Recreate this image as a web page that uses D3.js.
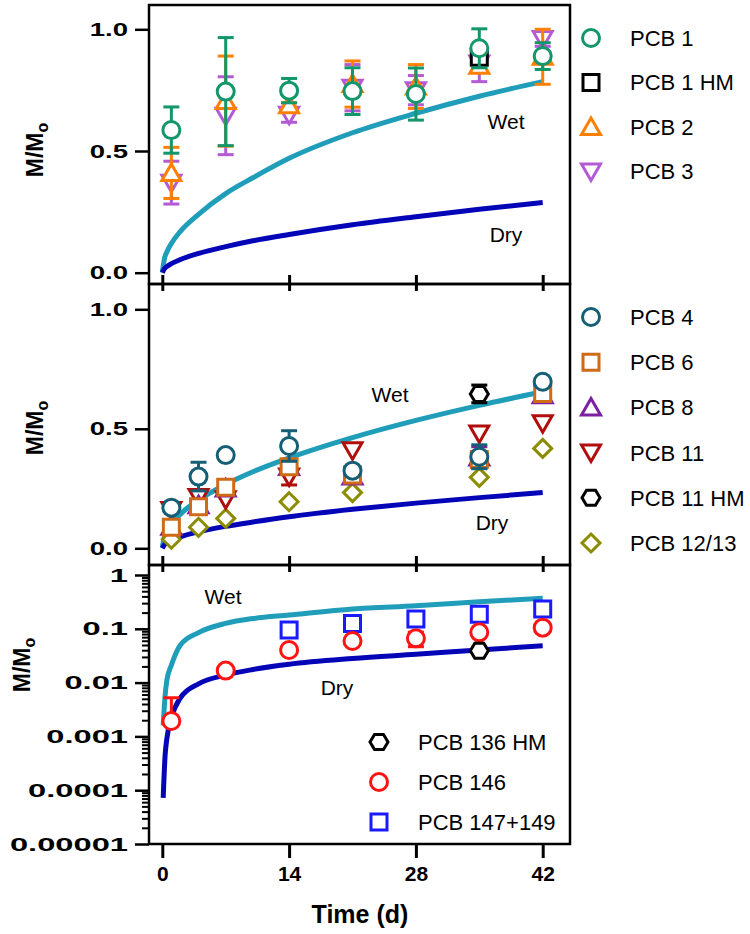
<!DOCTYPE html>
<html>
<head>
<meta charset="utf-8">
<script src="https://cdn.jsdelivr.net/npm/d3@7"></script>
<style>
  body { margin: 0; background: #fff; }
  svg { font-family: "Liberation Sans", Arial, sans-serif; }
</style>
</head>
<body>
<svg id="chart" width="750" height="934"></svg>
<script>
// sampling days
const days = [1, 7, 14, 21, 28, 35, 42]
const daysMid = [1, 4, 7, 14, 21, 35, 42]
const xTicks = [0, 14, 28, 42]

// top panel (linear)
const pcb1 = [0.586, 0.744, 0.748, 0.746, 0.734, 0.922, 0.890]
const pcb1Sd = [0.095, 0.222, 0.05, 0.096, 0.107, 0.08, 0.055]
const pcb1hmDays = [35]
const pcb1hm = [0.885]
const pcb1hmSd = [0.03]
const pcb2 = [0.41, 0.705, 0.688, 0.775, 0.765, 0.85, 0.887]
const pcb2Sd = [0.105, 0.185, 0.01, 0.095, 0.09, 0.01, 0.113]
const pcb3 = [0.37, 0.645, 0.649, 0.76, 0.75, 0.86, 0.96]
const pcb3Sd = [0.088, 0.16, 0.031, 0.095, 0.06, 0.075, 0.03]

// middle panel (linear)
const pcb4 = [0.17, 0.30, 0.39, 0.428, 0.325, 0.383, 0.697]
const pcb4Sd = [0, 0.06, 0, 0.064, 0, 0.05, 0]
const pcb6 = [0.088, 0.174, 0.255, 0.341, 0.307, 0.372, 0.648]
const pcb6Sd = [0, 0, 0, 0.02, 0, 0, 0]
const pcb8 = [0.09, 0.18, 0.25, 0.34, 0.30, 0.38, 0.64]
const pcb8Sd = [0, 0, 0, 0, 0, 0.045, 0]
const pcb11 = [0.16, 0.215, 0.205, 0.30, 0.41, 0.48, 0.523]
const pcb11Sd = [0, 0, 0, 0.035, 0, 0, 0]
const pcb11hmDays = [35]
const pcb11hm = [0.646]
const pcb11hmSd = [0.037]
const pcb1213 = [0.038, 0.088, 0.125, 0.195, 0.233, 0.297, 0.418]

// bottom panel (log)
const pcb136hmDays = [35]
const pcb136hm = [0.039]
const pcb146 = [0.00193, 0.0167, 0.0404, 0.0593, 0.0665, 0.0859, 0.105]
const pcb146Sd = [0.0033, 0, 0, 0, 0.02, 0, 0]
const pcb147Days = [14, 21, 28, 35, 42]
const pcb147 = [0.095, 0.126, 0.152, 0.186, 0.233]

// model curves
const curveDays = [0, 0.25, 0.5, 1, 2, 4, 7, 10, 14, 21, 28, 35, 42]
const topWet = [0, 0.06, 0.085, 0.12, 0.17, 0.24, 0.325, 0.39, 0.47, 0.575, 0.655, 0.725, 0.785]
const topDry = [0, 0.017, 0.025, 0.037, 0.054, 0.079, 0.107, 0.131, 0.157, 0.197, 0.230, 0.261, 0.288]
const midWet = [0.005, 0.05, 0.072, 0.101, 0.143, 0.202, 0.267, 0.32, 0.378, 0.463, 0.535, 0.598, 0.655]
const midDry = [0, 0.016, 0.023, 0.033, 0.048, 0.069, 0.092, 0.110, 0.132, 0.163, 0.189, 0.212, 0.233]
const logDays = [0.1, 0.3, 0.5, 1, 2, 4, 7, 10, 14, 21, 28, 35, 42]
const logWet = [0.0016, 0.0055, 0.011, 0.021, 0.05, 0.085, 0.126, 0.155, 0.18, 0.233, 0.269, 0.319, 0.369]
const logDry = [0.000072, 0.00042, 0.0009, 0.0022, 0.0052, 0.0095, 0.0138, 0.0175, 0.0219, 0.028, 0.0336, 0.0404, 0.0485]

const wetColor = "#1f9db9", dryColor = "#0505b8"

const left = 149, right = 570
const x = d3.scaleLinear().domain([0, 42]).range([162.3, 542.7])

// marker shapes, centred on 0,0
const shapes = {
    circle: "M8.5,0A8.5,8.5 0 1,1 -8.5,0A8.5,8.5 0 1,1 8.5,0Z",
    square: "M-8,-8H8V8H-8Z",
    up: "M0,-9L9.5,7.5H-9.5Z",
    down: "M0,9L9.5,-7.5H-9.5Z",
    diamond: "M0,-9L9,0L0,9L-9,0Z",
    hexagon: "M-9,0L-4.5,-7.5H4.5L9,0L4.5,7.5H-4.5Z"
}

const series = (name, shape, color, xs, ys, sds) => ({name, shape, color, xs, ys, sds: sds || ys.map(() => 0)})

const panels = [
    {
        top: 5, bottom: 284,
        y: d3.scaleLinear().domain([0, 1]).range([272.7, 29.3]),
        ticks: [0, 0.5, 1], fmt: d3.format(".1f"), stretch: 1.45,
        curves: [[curveDays, topWet, wetColor], [curveDays, topDry, dryColor]],
        labels: [["Wet", 506, 122], ["Dry", 506, 235]],
        titleX: 35, titleY: 150,
        legend: {mx: 591, tx: 630, y0: 38, dy: 44.5},
        series: [
            series("PCB 1", "circle", "#12966a", days, pcb1, pcb1Sd),
            series("PCB 1 HM", "square", "#000000", pcb1hmDays, pcb1hm, pcb1hmSd),
            series("PCB 2", "up", "#ff7f00", days, pcb2, pcb2Sd),
            series("PCB 3", "down", "#b45ad6", days, pcb3, pcb3Sd)
        ]
    },
    {
        top: 284, bottom: 565,
        y: d3.scaleLinear().domain([0, 1]).range([548.3, 309.3]),
        ticks: [0, 0.5, 1], fmt: d3.format(".1f"), stretch: 1.45,
        curves: [[curveDays, midWet, wetColor], [curveDays, midDry, dryColor]],
        labels: [["Wet", 390, 395], ["Dry", 492, 523]],
        titleX: 35, titleY: 428,
        legend: {mx: 591, tx: 630, y0: 317, dy: 45.2},
        series: [
            series("PCB 4", "circle", "#155e76", daysMid, pcb4, pcb4Sd),
            series("PCB 6", "square", "#cf6a16", daysMid, pcb6, pcb6Sd),
            series("PCB 8", "up", "#7d1fa3", daysMid, pcb8, pcb8Sd),
            series("PCB 11", "down", "#b00d0d", daysMid, pcb11, pcb11Sd),
            series("PCB 11 HM", "hexagon", "#000000", pcb11hmDays, pcb11hm, pcb11hmSd),
            series("PCB 12/13", "diamond", "#8c8c00", daysMid, pcb1213)
        ]
    },
    {
        top: 565, bottom: 844, log: true,
        y: d3.scaleLog().domain([1e-5, 1]).range([844, 575]),
        ticks: [1e-5, 1e-4, 1e-3, 1e-2, 1e-1, 1], stretch: 1.72,
        fmt: (d) => ["0.00001", "0.0001", "0.001", "0.01", "0.1", "1"][Math.round(Math.log10(d)) + 5],
        curves: [[logDays, logWet, wetColor], [logDays, logDry, dryColor]],
        labels: [["Wet", 223, 597], ["Dry", 337, 688]],
        titleX: 22, titleY: 665,
        legend: {mx: 379, tx: 418, y0: 742, dy: 40},
        series: [
            series("PCB 136 HM", "hexagon", "#000000", pcb136hmDays, pcb136hm),
            series("PCB 146", "circle", "#ff1414", days, pcb146, pcb146Sd),
            series("PCB 147+149", "square", "#1a1aff", pcb147Days, pcb147)
        ]
    }
]

const svg = d3.select("#chart")

panels.forEach((p, pi) => {
    const g = svg.append("g")
    const y = p.y

    // model curves
    const line = d3.line()
        .x((d) => x(d[0]))
        .y((d) => y(d[1]))
        .curve(d3.curveMonotoneX)
    p.curves.forEach(([xs, ys, color]) => {
        g.append("path")
            .attr("d", line(xs.map((t, i) => [t, ys[i]])))
            .attr("fill", "none")
            .attr("stroke", color)
            .attr("stroke-width", 5)
    })

    p.labels.forEach(([txt, lx, ly]) => {
        g.append("text")
            .attr("x", lx).attr("y", ly).attr("dy", "0.35em")
            .attr("text-anchor", "middle")
            .style("font-size", "21px")
            .text(txt)
    })

    // data, first series on top
    p.series.slice().reverse().forEach((s) => {
        const sg = g.append("g")
        s.xs.forEach((t, i) => {
            const v = s.ys[i], sd = s.sds[i]
            const cx = x(t), cy = y(v)
            if (sd > 0) {
                const hi = y(v + sd)
                const lo = (p.log && v - sd <= 0) ? cy : y(v - sd)
                sg.append("line").attr("x1", cx).attr("x2", cx).attr("y1", hi).attr("y2", lo)
                    .attr("stroke", s.color).attr("stroke-width", 3)
                sg.append("line").attr("x1", cx - 8).attr("x2", cx + 8).attr("y1", hi).attr("y2", hi)
                    .attr("stroke", s.color).attr("stroke-width", 3)
                if (lo !== cy)
                    sg.append("line").attr("x1", cx - 8).attr("x2", cx + 8).attr("y1", lo).attr("y2", lo)
                        .attr("stroke", s.color).attr("stroke-width", 3)
            }
            sg.append("path")
                .attr("d", shapes[s.shape])
                .attr("transform", `translate(${cx},${cy})`)
                .attr("fill", "white")
                .attr("stroke", s.color)
                .attr("stroke-width", 3)
        })
    })

    // legend
    p.series.forEach((s, i) => {
        const ly = p.legend.y0 + i * p.legend.dy
        svg.append("path")
            .attr("d", shapes[s.shape])
            .attr("transform", `translate(${p.legend.mx},${ly})`)
            .attr("fill", "white")
            .attr("stroke", s.color)
            .attr("stroke-width", 3)
        svg.append("text")
            .attr("x", p.legend.tx).attr("y", ly).attr("dy", "0.36em")
            .style("font-size", "22px")
            .text(s.name)
    })

    // frame
    g.append("rect")
        .attr("x", left).attr("y", p.top)
        .attr("width", right - left).attr("height", p.bottom - p.top)
        .attr("fill", "none").attr("stroke", "black").attr("stroke-width", 2.5)

    // y axis (labels are drawn wide, as in the original)
    const sx = p.stretch
    const yAxis = g.append("g")
        .attr("transform", `translate(${left},0)`)
        .call(d3.axisLeft(y).tickValues(p.ticks).tickFormat(p.fmt).tickSize(14).tickPadding(6))
    yAxis.select(".domain").remove()
    yAxis.selectAll("line").attr("stroke-width", 2.5)
    yAxis.selectAll("text")
        .attr("transform", `scale(${sx},1)`)
        .attr("x", -21 / sx)
        .style("font-size", "19px").style("font-weight", "bold")

    if (p.log) {
        const minors = []
        for (let e = -5; e < 0; e++) for (let k = 2; k <= 9; k++) minors.push(k * Math.pow(10, e))
        const mAxis = g.append("g")
            .attr("transform", `translate(${left},0)`)
            .call(d3.axisLeft(y).tickValues(minors).tickFormat("").tickSize(7))
        mAxis.select(".domain").remove()
        mAxis.selectAll("line").attr("stroke-width", 2)
    }

    // x ticks
    const last = pi === panels.length - 1
    const xAxis = g.append("g")
        .attr("transform", `translate(0,${last ? p.bottom : p.bottom - 9})`)
        .call(d3.axisBottom(x).tickValues(xTicks).tickSize(last ? 14 : 16).tickPadding(8))
    xAxis.select(".domain").remove()
    xAxis.selectAll("line").attr("stroke-width", 3)
    if (last) {
        xAxis.selectAll("text").style("font-size", "21px").style("font-weight", "bold")
    } else {
        xAxis.selectAll("text").remove()
    }

    // y title
    const title = svg.append("text")
        .attr("transform", `translate(${p.titleX + 8},${p.titleY}) rotate(-90)`)
        .attr("text-anchor", "middle")
        .style("font-size", "23px").style("font-weight", "bold")
    title.append("tspan").text("M/M")
    title.append("tspan").attr("dy", "0.3em").style("font-size", "16px").text("o")
})

svg.append("text")
    .attr("x", 360).attr("y", 923)
    .attr("text-anchor", "middle")
    .style("font-size", "25px").style("font-weight", "bold")
    .text("Time (d)")
</script>
</body>
</html>
